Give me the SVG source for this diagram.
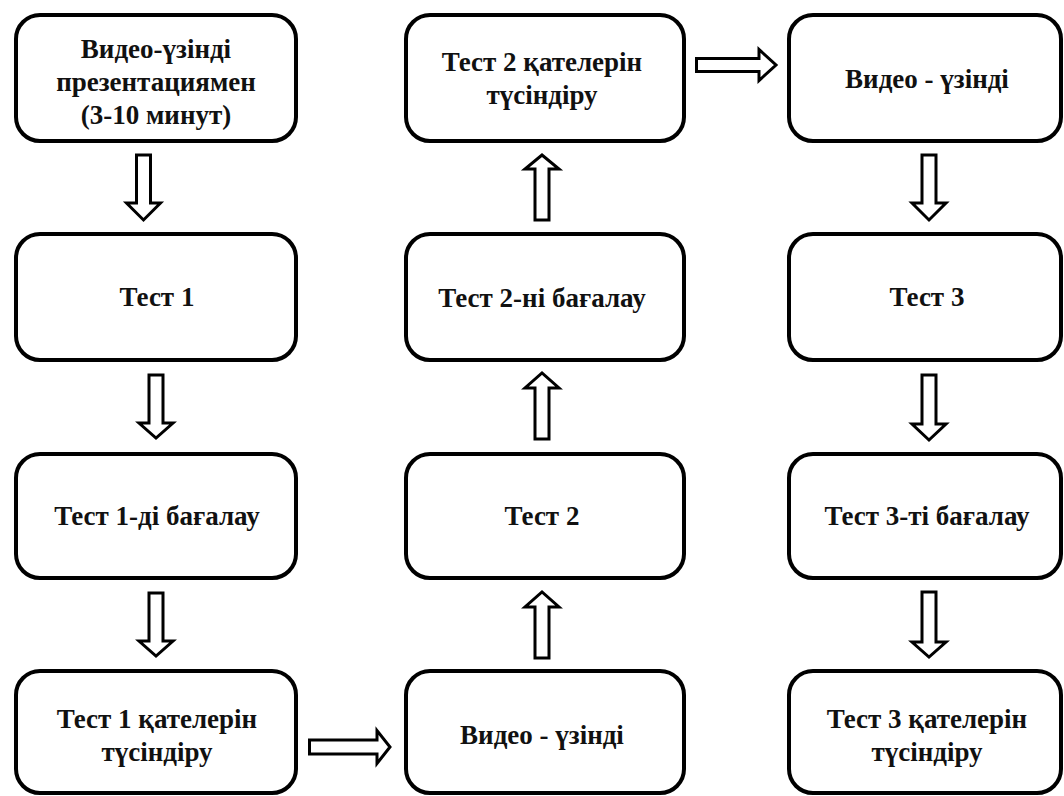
<svg xmlns="http://www.w3.org/2000/svg" width="1064" height="796" viewBox="0 0 1064 796">
<style>
.box{fill:#fff;stroke:#000;stroke-width:4}
.t{font-family:"Liberation Serif","Times New Roman",serif;font-weight:bold;font-size:27px;fill:#111;text-anchor:middle}
.ar{fill:#fff;stroke:#000;stroke-width:3;stroke-linejoin:miter}
</style>
<rect width="1064" height="796" fill="#fff"/>
<g id="connectors">
<path class="ar" d="M136.5 155H150.5V203H160.5L143.5 220L126.5 203H136.5Z"/>
<path class="ar" d="M149 375H163V423H173L156 438L139 423H149Z"/>
<path class="ar" d="M149 593H163V641H173L156 656L139 641H149Z"/>
<path class="ar" d="M535 658H549V607H559L542 592L525 607H535Z"/>
<path class="ar" d="M535 439H549V388H559L542 373L525 388H535Z"/>
<path class="ar" d="M535 220H549V169H559L542 155L525 169H535Z"/>
<path class="ar" d="M922 155H936V203H946L929 220L912 203H922Z"/>
<path class="ar" d="M922 375H936V424H946L929 440L912 424H922Z"/>
<path class="ar" d="M922 592H936V642H946L929 657L912 642H922Z"/>
<path class="ar" d="M696.5 58.5H759V49.5L776 65L759 80.5V71.5H696.5Z"/>
<path class="ar" d="M309.5 740H377V730.5L390 747L377 763.5V754H309.5Z"/>
</g>
<g id="n1"><rect class="box" x="16" y="15" width="280" height="126" rx="24"/>
<text class="t" x="156" y="58">Видео-үзінді</text><text class="t" x="156" y="91">презентациямен</text><text class="t" x="156" y="124">(3-10 минут)</text></g>
<g id="n2"><rect class="box" x="16" y="234" width="280" height="126" rx="24"/><text class="t" x="157" y="306">Тест 1</text></g>
<g id="n3"><rect class="box" x="16" y="454" width="280" height="124" rx="24"/><text class="t" x="157" y="525">Тест 1-ді бағалау</text></g>
<g id="n4"><rect class="box" x="16" y="671" width="280" height="122" rx="24"/><text class="t" x="157" y="728">Тест 1 қателерін</text><text class="t" x="157" y="761">түсіндіру</text></g>
<g id="n5"><rect class="box" x="406" y="671" width="278" height="122" rx="24"/><text class="t" x="542" y="744">Видео - үзінді</text></g>
<g id="n6"><rect class="box" x="406" y="454" width="278" height="124" rx="24"/><text class="t" x="542" y="525">Тест 2</text></g>
<g id="n7"><rect class="box" x="406" y="234" width="278" height="126" rx="24"/><text class="t" x="542" y="307">Тест 2-ні бағалау</text></g>
<g id="n8"><rect class="box" x="406" y="15" width="278" height="126" rx="24"/><text class="t" x="542" y="71">Тест 2 қателерін</text><text class="t" x="542" y="104">түсіндіру</text></g>
<g id="n9"><rect class="box" x="789" y="15" width="272" height="126" rx="24"/><text class="t" x="927" y="88">Видео - үзінді</text></g>
<g id="n10"><rect class="box" x="789" y="234" width="272" height="126" rx="24"/><text class="t" x="927" y="306">Тест 3</text></g>
<g id="n11"><rect class="box" x="789" y="454" width="272" height="124" rx="24"/><text class="t" x="927" y="525">Тест 3-ті бағалау</text></g>
<g id="n12"><rect class="box" x="789" y="671" width="272" height="122" rx="24"/><text class="t" x="927" y="728">Тест 3 қателерін</text><text class="t" x="927" y="761">түсіндіру</text></g>
</svg>
